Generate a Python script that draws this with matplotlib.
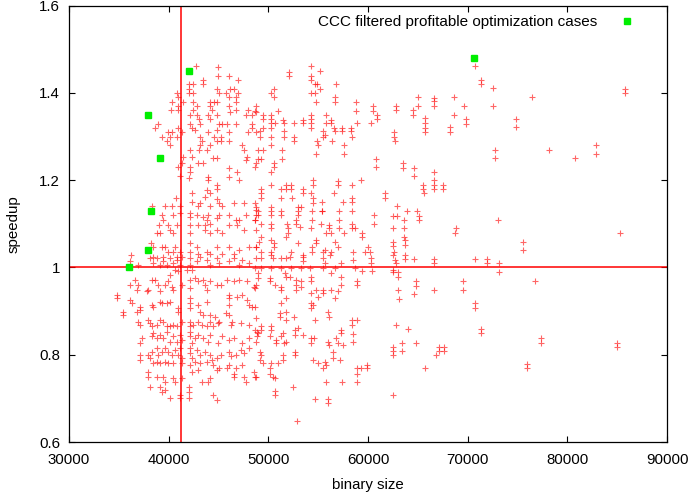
import numpy as np
import matplotlib
matplotlib.use("Agg")
import matplotlib.pyplot as plt

plt.rcParams['font.family'] = ['Liberation Sans', 'DejaVu Sans']

# binary size in thousands, speedup
red_left_top = [
    (42.7,1.461),(45.0,1.46),(45.0,1.44),(46.1,1.44),(47.0,1.43),(43.4,1.43),(43.4,1.42),(42.4,1.42),
    (42.0,1.42),(42.0,1.41),(42.0,1.40),(42.4,1.40),(44.8,1.41),(45.1,1.40),(45.8,1.40),(46.2,1.41),
    (46.6,1.41),(47.0,1.40),(40.8,1.40),(40.9,1.39),(40.3,1.38),(40.9,1.37),(40.9,1.36),(40.2,1.36),
    (41.4,1.38),(42.4,1.38),(42.8,1.37),(42.4,1.36),(44.1,1.38),(44.8,1.38),(44.5,1.38),(44.1,1.37),
    (44.3,1.36),(46.1,1.39),(46.8,1.39),(46.8,1.38),(46.1,1.37),(46.8,1.36),(46.2,1.357),(47.8,1.35),
    (48.0,1.36),(48.8,1.37),(48.8,1.357),(48.4,1.35),(48.4,1.33),(48.0,1.31),(48.8,1.31),(48.4,1.32),
    (42.8,1.35),(42.1,1.35),(42.1,1.33),(42.3,1.32),(43.0,1.34),(42.6,1.315),(43.1,1.33),(43.9,1.35),
    (44.1,1.34),(44.8,1.35),(45.1,1.33),(45.4,1.33),(45.9,1.33),(46.8,1.33),(44.8,1.315),(43.9,1.31),
    (44.5,1.30),(45.3,1.30),(43.1,1.30),(43.3,1.29),(43.1,1.28),(43.8,1.27),(44.1,1.28),(44.8,1.29),
    (45.3,1.29),(46.1,1.31),(46.1,1.29),(38.9,1.33),(38.6,1.32),(39.3,1.30),(39.9,1.31),(40.1,1.30),
    (40.3,1.31),(40.8,1.30),(40.9,1.32),(41.3,1.31),(40.1,1.28),(39.8,1.29),(47.4,1.28),(47.6,1.27),
    (47.8,1.246),(47.9,1.254),(48.8,1.24),(46.9,1.22),(47.1,1.20),(46.1,1.227),(46.1,1.208),(44.8,1.19),
    (44.8,1.18),(43.9,1.208),(43.9,1.20),(43.8,1.178),(44.1,1.17),(43.6,1.162),(42.3,1.17),(42.1,1.27),
    (42.3,1.254),(41.4,1.254),(41.3,1.24),(40.9,1.23),(41.1,1.21),(42.1,1.23),(42.1,1.22),(42.0,1.204),
    (42.9,1.24),(43.4,1.24),(44.4,1.25),(44.8,1.25),(43.0,1.27),(40.7,1.16),(38.3,1.14),(39.6,1.14),
    (40.3,1.14),(41.1,1.14),(42.3,1.15),(42.9,1.14),(43.1,1.147),(44.1,1.14),(44.8,1.158),(45.1,1.147),
    (45.4,1.14),(46.6,1.147),(47.6,1.147),(48.7,1.147),(48.8,1.132),(48.8,1.12),(39.3,1.12),(39.4,1.109),
    (40.4,1.12),(41.1,1.124),(42.1,1.124),(42.1,1.116),(42.8,1.12),(43.4,1.116),(43.8,1.109),(43.9,1.12),
    (44.1,1.10),(44.8,1.113),(45.1,1.12),(46.1,1.12),(46.8,1.109),(47.1,1.109),(47.8,1.12),(48.7,1.109),
    (39.0,1.097),(39.9,1.097),(40.1,1.086),(40.4,1.078),(38.8,1.078),(39.1,1.078),(40.8,1.097),(42.1,1.097),
    (42.1,1.078),(42.9,1.097),(43.6,1.097),(43.6,1.086),(44.1,1.078),(44.8,1.086),(45.4,1.078),(46.1,1.097),
    (46.9,1.097),(47.6,1.086),(48.8,1.086),(38.2,1.055),(38.4,1.048),(39.3,1.048),(39.6,1.048),(39.9,1.036),
    (40.4,1.036),(40.6,1.048),(41.1,1.036),(42.1,1.055),(42.1,1.036),(42.8,1.048),(42.9,1.032),(43.8,1.036),
    (44.1,1.032),(44.8,1.048),(45.4,1.032),(46.1,1.048),(46.6,1.032),(47.1,1.04),(48.1,1.048),(48.8,1.048),
    (36.2,1.028),(38.4,1.025),(39.4,1.025),(40.8,1.025),
]

red_left_bottom = [
    (38.1,1.021),(38.4,1.010),(38.8,1.021),(39.1,1.006),(39.4,1.014),(39.8,1.006),(40.1,1.021),(40.4,1.010),
    (40.8,1.018),(41.1,1.006),(41.3,1.025),(42.1,1.021),(42.1,1.006),(42.8,1.014),(43.1,1.025),(43.8,1.018),
    (44.1,1.006),(44.8,1.021),(45.1,1.010),(46.1,1.014),(46.6,1.021),(47.1,1.006),(47.4,1.018),(48.1,1.010),
    (48.8,1.021),(36.1,1.014),(36.9,1.006),(40.1,0.983),(40.6,0.995),(40.9,0.991),(41.8,0.995),(42.3,0.995),
    (36.1,0.960),(36.9,0.960),(36.8,0.949),(37.8,0.945),(37.9,0.949),(36.6,0.972),(38.3,0.972),(38.6,0.972),
    (38.9,0.960),(39.1,0.945),(39.6,0.960),(39.9,0.968),(40.3,0.956),(40.4,0.949),(41.3,0.960),(42.1,0.972),
    (42.1,0.952),(42.6,0.975),(42.9,0.968),(43.4,0.972),(43.6,0.960),(43.8,0.949),(44.1,0.968),(44.8,0.960),
    (45.3,0.960),(45.9,0.972),(46.6,0.968),(47.1,0.972),(47.9,0.968),(48.6,0.956),(34.8,0.937),(34.8,0.930),
    (36.1,0.926),(36.3,0.918),(35.4,0.899),(35.4,0.891),(37.1,0.910),(37.1,0.903),(36.8,0.899),(38.3,0.914),
    (38.4,0.910),(39.1,0.922),(39.3,0.918),(39.8,0.918),(40.1,0.922),(40.9,0.907),(40.9,0.899),(42.1,0.930),
    (42.1,0.918),(42.1,0.907),(42.9,0.914),(43.8,0.922),(46.1,0.937),(46.1,0.930),(46.1,0.914),(46.9,0.933),
    (47.4,0.937),(47.9,0.926),(48.1,0.914),(48.4,0.910),(43.1,0.899),(43.4,0.891),(44.1,0.891),(44.6,0.887),
    (45.1,0.876),(45.8,0.895),(46.1,0.891),(46.3,0.868),(46.4,0.876),(47.3,0.872),(48.1,0.868),(48.8,0.884),
    (36.9,0.876),(37.1,0.868),(37.9,0.880),(38.1,0.872),(38.3,0.865),(38.8,0.868),(39.1,0.880),(39.4,0.876),
    (39.8,0.865),(40.1,0.865),(40.4,0.868),(40.8,0.865),(41.3,0.876),(42.1,0.876),(42.1,0.865),(42.4,0.868),
    (42.9,0.876),(43.3,0.868),(43.8,0.865),(44.1,0.876),(44.4,0.865),(44.9,0.872),(48.9,0.853),(48.9,0.842),
    (37.3,0.838),(37.1,0.826),(38.3,0.842),(38.4,0.849),(38.8,0.838),(39.1,0.845),(39.4,0.838),(39.8,0.853),
    (40.1,0.830),(40.4,0.842),(40.8,0.830),(41.1,0.845),(41.3,0.834),(42.1,0.853),(42.1,0.842),(42.3,0.826),
    (42.6,0.838),(42.9,0.845),(43.4,0.838),(43.9,0.830),(44.1,0.845),(44.9,0.826),(45.4,0.842),(46.1,0.834),
    (46.6,0.838),(47.4,0.826),(48.1,0.838),(48.8,0.830),(37.1,0.799),(37.1,0.788),(37.9,0.799),(38.1,0.792),
    (38.3,0.807),(38.8,0.815),(38.9,0.799),(39.3,0.807),(39.6,0.815),(39.9,0.807),(40.3,0.799),(40.6,0.811),
    (40.9,0.799),(41.1,0.815),(41.3,0.792),(42.1,0.815),(42.1,0.803),(42.3,0.792),(42.8,0.811),(43.1,0.799),
    (43.6,0.807),(44.1,0.799),(44.3,0.788),(44.8,0.792),(45.3,0.799),(46.1,0.807),(46.3,0.796),(46.8,0.799),
    (47.3,0.811),(47.6,0.803),(48.1,0.815),(38.4,0.780),(38.8,0.784),(39.1,0.780),(39.6,0.784),(39.9,0.780),
    (40.4,0.780),(41.3,0.780),(42.1,0.777),(42.6,0.784),(43.1,0.780),(43.8,0.784),(44.4,0.777),(45.1,0.769),
    (46.1,0.777),(46.8,0.769),(47.4,0.777),(37.9,0.761),(37.9,0.750),(38.8,0.750),(39.4,0.750),(39.6,0.738),
    (40.4,0.746),(40.6,0.738),(41.3,0.746),(42.3,0.761),(42.9,0.765),(43.3,0.738),(43.9,0.738),(44.1,0.746),
    (44.8,0.765),(45.9,0.769),(46.6,0.757),(46.6,0.750),(47.6,0.750),(47.8,0.738),(48.8,0.750),(48.6,0.761),
    (38.1,0.727),(39.1,0.727),(39.3,0.715),(39.6,0.719),(40.1,0.700),(41.1,0.708),(41.1,0.700),(42.0,0.727),
    (42.0,0.715),(42.0,0.700),(44.4,0.708),(44.8,0.696),
]

red_mid_top = [
    (52.1,1.449),(52.1,1.440),(54.3,1.461),(54.3,1.440),(55.2,1.451),(54.3,1.430),(54.7,1.420),(54.9,1.420),
    (56.8,1.420),(55.2,1.409),(50.3,1.400),(50.6,1.409),(50.6,1.390),(54.3,1.400),(54.7,1.400),(54.8,1.379),
    (56.7,1.390),(56.7,1.379),(58.8,1.379),(58.8,1.359),(60.5,1.369),(60.5,1.359),(60.9,1.350),(60.9,1.340),
    (48.7,1.359),(49.5,1.350),(49.5,1.340),(50.3,1.350),(50.3,1.340),(51.0,1.359),(50.3,1.331),(50.7,1.331),
    (50.3,1.319),(49.5,1.319),(49.2,1.312),(49.2,1.300),(50.3,1.300),(51.5,1.338),(51.6,1.331),(51.6,1.312),
    (51.6,1.300),(52.6,1.331),(52.6,1.300),(52.6,1.290),(53.5,1.338),(53.5,1.331),(54.3,1.350),(54.3,1.340),
    (54.3,1.331),(54.3,1.319),(55.8,1.350),(55.8,1.331),(56.3,1.338),(56.3,1.331),(55.5,1.312),(55.5,1.300),
    (55.7,1.304),(56.6,1.319),(56.7,1.312),(56.4,1.290),(57.4,1.319),(57.4,1.312),(58.3,1.319),(58.3,1.312),
    (58.4,1.300),(54.9,1.290),(55.0,1.281),(54.8,1.259),(57.6,1.281),(57.6,1.259),(58.9,1.331),(60.3,1.331),
    (49.0,1.270),(49.5,1.270),(49.0,1.249),(49.3,1.249),(51.4,1.270),(51.4,1.249),(50.3,1.281),(50.6,1.239),
    (50.6,1.230),(50.3,1.218),(48.7,1.230),(60.8,1.249),(60.8,1.230),(54.5,1.200),(54.5,1.189),(57.0,1.198),
    (57.0,1.188),(59.3,1.200),(58.4,1.189),(51.8,1.189),(51.8,1.180),(52.3,1.189),(52.3,1.180),(51.3,1.180),
    (50.3,1.189),(49.3,1.180),(49.3,1.170),(49.3,1.160),(53.5,1.180),(53.5,1.170),(54.3,1.170),(54.5,1.160),
    (52.4,1.160),(51.3,1.160),(56.6,1.170),(61.7,1.170),(61.7,1.160),(54.5,1.147),(55.4,1.149),(55.4,1.129),
    (57.5,1.149),(58.4,1.160),(58.4,1.149),(48.8,1.139),(49.0,1.129),(49.0,1.120),(50.3,1.139),(50.3,1.129),
    (50.3,1.120),(51.3,1.129),(51.3,1.120),(53.0,1.139),(53.3,1.139),(53.0,1.129),(53.0,1.120),(52.8,1.109),
    (52.8,1.100),(54.4,1.129),(54.4,1.109),(55.4,1.129),(57.1,1.129),(57.1,1.109),(58.4,1.129),(60.6,1.120),
    (60.6,1.100),(48.7,1.109),(49.3,1.100),(50.3,1.100),(50.3,1.090),(51.9,1.100),(52.0,1.090),(52.0,1.078),
    (51.8,1.071),(53.2,1.093),(54.3,1.090),(55.3,1.100),(56.1,1.097),(56.1,1.090),(55.8,1.078),(56.3,1.078),
    (57.1,1.090),(57.6,1.078),(58.4,1.100),(58.4,1.090),(58.7,1.090),(59.4,1.078),(59.4,1.071),(49.3,1.071),
    (49.1,1.059),(48.8,1.048),(50.3,1.063),(50.6,1.057),(50.6,1.048),(53.0,1.055),(54.8,1.063),(54.8,1.057),
    (54.4,1.048),(56.7,1.059),(57.0,1.048),(55.7,1.040),(60.0,1.048),(49.3,1.036),(50.3,1.036),(50.3,1.028),
    (52.3,1.036),(53.5,1.028),(54.4,1.036),(55.5,1.036),(56.3,1.036),(58.5,1.036),(59.7,1.036),(60.2,1.036),
]

red_mid_bottom = [
    (49.3,1.021),(50.5,1.021),(51.3,1.021),(51.8,1.021),(52.2,1.025),(53.5,1.025),(53.5,1.014),(55.5,1.021),
    (55.7,1.010),(56.2,1.029),(57.3,1.010),(58.5,1.018),(60.3,1.021),(60.3,1.010),(48.7,0.998),(49.3,0.998),
    (50.3,0.998),(51.3,0.998),(52.3,0.998),(53.3,0.998),(54.2,0.998),(55.5,0.998),(56.7,0.998),(58.7,0.998),
    (49.0,0.987),(49.0,0.975),(50.2,0.975),(50.2,0.968),(50.7,0.960),(51.3,0.956),(51.3,0.949),(51.7,0.987),
    (51.8,0.979),(52.2,0.979),(52.8,0.972),(52.8,0.960),(53.3,0.968),(53.3,0.956),(52.8,0.949),(54.3,0.979),
    (54.3,0.968),(54.8,0.949),(55.0,0.933),(54.3,0.941),(55.5,0.949),(55.5,0.941),(56.3,0.949),(56.7,0.930),
    (57.0,0.945),(57.3,0.960),(56.3,0.987),(57.3,0.979),(59.4,0.991),(60.4,0.991),(58.9,0.968),(58.9,0.960),
    (48.7,0.952),(48.8,0.960),(51.8,0.930),(51.3,0.918),(54.3,0.918),(54.3,0.907),(54.5,0.914),(51.2,0.895),
    (51.2,0.887),(51.8,0.899),(51.8,0.880),(52.6,0.887),(54.7,0.880),(56.0,0.899),(56.1,0.887),(48.7,0.910),
    (58.4,0.880),(58.4,0.868),(58.9,0.880),(48.7,0.857),(49.0,0.849),(49.3,0.865),(49.3,0.857),(50.3,0.865),
    (50.3,0.857),(50.2,0.842),(50.8,0.834),(50.8,0.826),(51.3,0.842),(51.6,0.826),(51.8,0.829),(51.5,0.849),
    (52.7,0.857),(52.7,0.845),(53.0,0.861),(53.5,0.845),(54.3,0.838),(54.3,0.826),(54.6,0.838),(56.0,0.830),
    (56.1,0.822),(56.8,0.838),(57.0,0.826),(57.3,0.857),(57.3,0.849),(57.5,0.822),(58.5,0.848),(58.5,0.829),
    (49.2,0.807),(49.2,0.788),(49.3,0.799),(49.5,0.780),(50.3,0.780),(51.0,0.780),(50.2,0.769),(50.2,0.757),
    (50.5,0.750),(50.7,0.746),(48.7,0.750),(51.5,0.799),(51.5,0.788),(52.7,0.807),(52.7,0.799),(54.5,0.788),
    (55.0,0.780),(55.5,0.769),(55.7,0.784),(55.8,0.777),(56.5,0.807),(56.5,0.792),(57.2,0.788),(58.9,0.769),
    (58.9,0.757),(59.3,0.769),(59.9,0.777),(59.9,0.769),(55.8,0.738),(57.4,0.738),(58.9,0.738),(52.5,0.727),
    (50.7,0.717),(50.7,0.708),(54.7,0.698),(56.0,0.698),(56.0,0.689),(52.9,0.648),
]

red_right = [
    (70.7,1.461),(71.3,1.430),(71.3,1.420),(72.5,1.411),(72.5,1.371),(65.0,1.390),(65.0,1.371),(62.8,1.369),
    (62.8,1.360),(64.5,1.362),(64.5,1.350),(65.7,1.343),(65.7,1.331),(65.7,1.320),(65.7,1.310),(66.6,1.388),
    (66.6,1.381),(66.6,1.371),(68.6,1.390),(68.6,1.350),(69.6,1.371),(69.8,1.341),(69.8,1.330),(68.2,1.321),
    (68.2,1.310),(74.8,1.341),(74.8,1.321),(76.5,1.391),(85.8,1.410),(85.8,1.400),(72.7,1.270),(72.7,1.250),
    (78.2,1.270),(80.8,1.250),(82.9,1.280),(82.9,1.260),(62.6,1.310),(62.6,1.300),(62.7,1.291),(63.5,1.239),
    (63.5,1.229),(64.6,1.229),(64.6,1.210),(66.6,1.220),(66.6,1.201),(65.5,1.190),(65.5,1.180),(65.6,1.171),
    (66.6,1.190),(66.6,1.180),(67.5,1.190),(67.5,1.180),(62.9,1.140),(62.5,1.119),(62.9,1.119),(63.6,1.109),
    (63.9,1.129),(64.9,1.129),(65.1,1.119),(65.1,1.109),(68.8,1.090),(73.0,1.109),(68.7,1.078),(85.3,1.078),
    (62.5,1.090),(63.6,1.090),(63.6,1.071),(63.7,1.063),(63.7,1.052),(62.5,1.059),(62.5,1.049),(62.6,1.036),
    (62.5,1.029),(63.7,1.029),(63.7,1.020),(62.7,1.017),(62.8,1.010),(64.6,1.020),(66.6,1.020),(66.6,1.010),
    (70.7,1.020),(71.9,1.020),(71.9,1.010),(73.1,1.010),(73.1,0.989),(75.6,1.059),(75.6,1.039),(62.5,0.994),
    (62.5,0.989),(63.0,0.989),(63.0,0.979),(63.0,0.948),(63.1,0.928),(64.8,0.969),(64.8,0.958),(64.6,0.939),
    (66.6,0.948),(69.5,0.969),(69.5,0.948),(76.8,0.969),(70.7,0.918),(70.7,0.908),(71.3,0.859),(71.3,0.849),
    (62.8,0.868),(64.0,0.859),(63.4,0.828),(63.4,0.809),(64.8,0.828),(62.5,0.818),(62.5,0.809),(62.5,0.799),
    (66.8,0.799),(67.1,0.818),(67.1,0.809),(67.6,0.818),(67.6,0.809),(65.7,0.769),(77.4,0.838),(77.4,0.828),
    (76.0,0.779),(76.0,0.769),(85.0,0.828),(85.0,0.818),(62.5,0.708),
]

ccc_size_k = [36.0, 37.9, 38.2, 39.1, 37.9, 42.0, 70.6]
ccc_speedup = [1.00, 1.04, 1.13, 1.25, 1.35, 1.45, 1.48]

threshold_size_k = 41.2
baseline_speedup = 1.0

red = np.array(red_left_top + red_left_bottom + red_mid_top + red_mid_bottom + red_right)

fig = plt.figure(figsize=(6.92, 4.92), dpi=100)
ax = fig.add_axes([0.0997, 0.1016, 0.8642, 0.8868])

ax.plot(red[:, 0] * 1000, red[:, 1], linestyle='none', marker='+', color='#ff0000',
        markersize=4.3, markeredgewidth=0.8, alpha=0.6)
ax.axvline(threshold_size_k * 1000, color='red', linewidth=1.1)
ax.axhline(baseline_speedup, color='red', linewidth=1.1)
ax.plot(np.array(ccc_size_k) * 1000, ccc_speedup, linestyle='none', marker='s',
        color='#00ee00', markersize=4, label='CCC filtered profitable optimization cases')

ax.set_xlim(30000, 90000)
ax.set_ylim(0.6, 1.6)
ax.set_xticks(range(30000, 90001, 10000))
ax.set_yticks([0.6, 0.8, 1.0, 1.2, 1.4, 1.6])
ax.set_yticklabels(['0.6', '0.8', '1', '1.2', '1.4', '1.6'])
ax.tick_params(direction='in', top=True, right=True, length=4, labelsize=10.8)
ax.tick_params(axis='x', pad=8)
ax.tick_params(axis='y', pad=6.5)
for s in ax.spines.values():
    s.set_linewidth(0.9)

ax.set_xlabel('binary size', fontsize=10.8, labelpad=8)
ax.set_ylabel('speedup', fontsize=10.8, labelpad=13)

ax.legend(loc='upper right', bbox_to_anchor=(0.967, 1.0), frameon=False, markerfirst=False,
          fontsize=11, handlelength=1.5, handletextpad=1.2, borderaxespad=0.2)

fig.savefig('out.png', dpi=100)
